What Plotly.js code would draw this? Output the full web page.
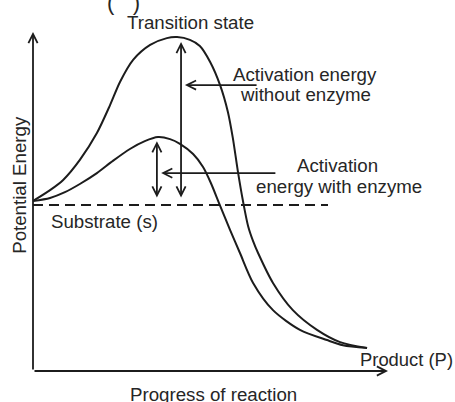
<!DOCTYPE html>
<html>
<head>
<meta charset="utf-8">
<script src="https://cdn.plot.ly/plotly-3.0.1.min.js"></script>
<style>
html,body{margin:0;padding:0;background:#fff;}
#chart{width:455px;height:402px;}
</style>
</head>
<body>
<div id="chart"></div>
<script>
// Progress of reaction (0-100) and potential energy (0-100)
const progressUncat = [0, 4.8, 8.5, 13.2, 18.0, 21.7, 24.5, 28.2, 33.0, 37.7, 40.6, 44.2, 47.0, 49.9, 52.7, 54.9, 56.3, 57.7, 59.2, 60.6, 62.0, 63.4, 67.6, 73.2, 80.0, 86.5, 94.1];
const energyUncat   = [50.0, 53.2, 56.2, 62.1, 70.0, 78.2, 85.0, 91.5, 95.9, 97.9, 98.2, 97.4, 95.6, 90.9, 84.1, 76.2, 68.5, 58.8, 49.7, 42.6, 38.2, 34.7, 25.9, 17.9, 12.1, 8.5, 6.8];
const progressCat = [0, 4.8, 9.0, 13.2, 18.0, 22.5, 27.3, 31.5, 35.2, 38.6, 41.4, 45.1, 47.9, 50.1, 52.4, 55.5, 58.3, 62.0, 67.6, 75.2, 82.8, 87.3, 94.1];
const energyCat   = [50.0, 50.9, 52.6, 55.0, 58.2, 61.8, 65.3, 67.6, 68.8, 68.2, 66.8, 63.8, 60.0, 55.3, 49.4, 41.5, 34.7, 25.9, 17.9, 12.1, 9.1, 7.6, 6.8];
const substrateProgress = [0, 83.1];
const substrateEnergy = [48.8, 48.8];

const labelTransition = "Transition state";
const labelWithout = ["Activation energy", "without enzyme"];
const labelWith = ["Activation", "energy with enzyme"];
const labelSubstrate = "Substrate (s)";
const labelProduct = "Product (P)";
const labelX = "Progress of reaction";
const labelY = "Potential Energy";

const ink = "#1c1c1c";
const txt = "#262626";
const fam = "Liberation Sans, Arial, sans-serif";
const fs = 18.7;

const traces = [
  {x: progressUncat, y: energyUncat, mode: "lines", line: {color: ink, width: 2, shape: "spline", smoothing: 0.8}, hoverinfo: "skip"},
  {x: progressCat, y: energyCat, mode: "lines", line: {color: ink, width: 2, shape: "spline", smoothing: 0.8}, hoverinfo: "skip"},
  {x: substrateProgress, y: substrateEnergy, mode: "lines", line: {color: ink, width: 2, dash: "10px,6px"}, hoverinfo: "skip"}
];

const peakU = Math.max(...energyUncat);
const peakC = Math.max(...energyCat);
const peakUx = progressUncat[energyUncat.indexOf(peakU)];
const peakCx = progressCat[energyCat.indexOf(peakC)];
const base = substrateEnergy[0] + 1.8;

function arrow(x, y, ax, ay, both) {
  return {x: x, y: y, ax: ax, ay: ay, xref: "x", yref: "y", axref: "x", ayref: "y",
    text: "", showarrow: true, arrowhead: 5, arrowsize: 1, arrowwidth: 1.8, arrowcolor: ink,
    startarrowhead: 5, startarrowsize: 1, arrowside: both ? "end+start" : "end", standoff: 0, startstandoff: 0};
}
function label(t, x, y, xa, extra) {
  return Object.assign({x: x, y: y, xref: "paper", yref: "paper", text: t, showarrow: false, xanchor: xa, yanchor: "middle",
    font: {family: fam, size: fs, color: txt}}, extra || {});
}

const annotations = [
  // axes
  arrow(0, 99.7, 0, 0, false),
  arrow(100, 0, 0, 0, false),
  // activation energy arrows
  arrow(peakUx + 1.1, peakU - 1.4, peakUx + 1.1, base, true),
  arrow(peakCx - 0.3, peakC - 1.2, peakCx - 0.3, base, true),
  arrow(peakUx + 2.2, 84.1, 63.4, 84.1, false),
  arrow(peakCx + 0.9, 58.2, 68.7, 58.2, false),
  // labels
  label(labelTransition, 0.445, 1.025, "center"),
  label(labelWithout[0], 0.766, 0.872, "center"),
  label(labelWithout[1], 0.768, 0.813, "center"),
  label(labelWith[0], 0.859, 0.604, "center"),
  label(labelWith[1], 0.861, 0.543, "center"),
  label(labelSubstrate, 0.044, 0.44, "left"),
  label(labelProduct, 0.915, 0.034, "left", {font: {family: fam, size: 18.4, color: txt}}),
  label(labelX, 0.508, -0.068, "center"),
  label(labelY, -0.04, 0.547, "center", {textangle: -90}),
  label("(&nbsp;&nbsp;&nbsp;)", 0.255, 1.041, "center", {yanchor: "bottom", font: {family: fam, size: 22, color: txt}})
];

const layout = {
  width: 455, height: 402,
  margin: {l: 33, r: 67, t: 31, b: 31},
  paper_bgcolor: "#fff", plot_bgcolor: "#fff",
  showlegend: false,
  xaxis: {range: [0, 100], visible: false, fixedrange: true},
  yaxis: {range: [0, 100], visible: false, fixedrange: true},
  annotations: annotations
};

Plotly.newPlot("chart", traces, layout, {staticPlot: true, displayModeBar: false});
</script>
</body>
</html>
